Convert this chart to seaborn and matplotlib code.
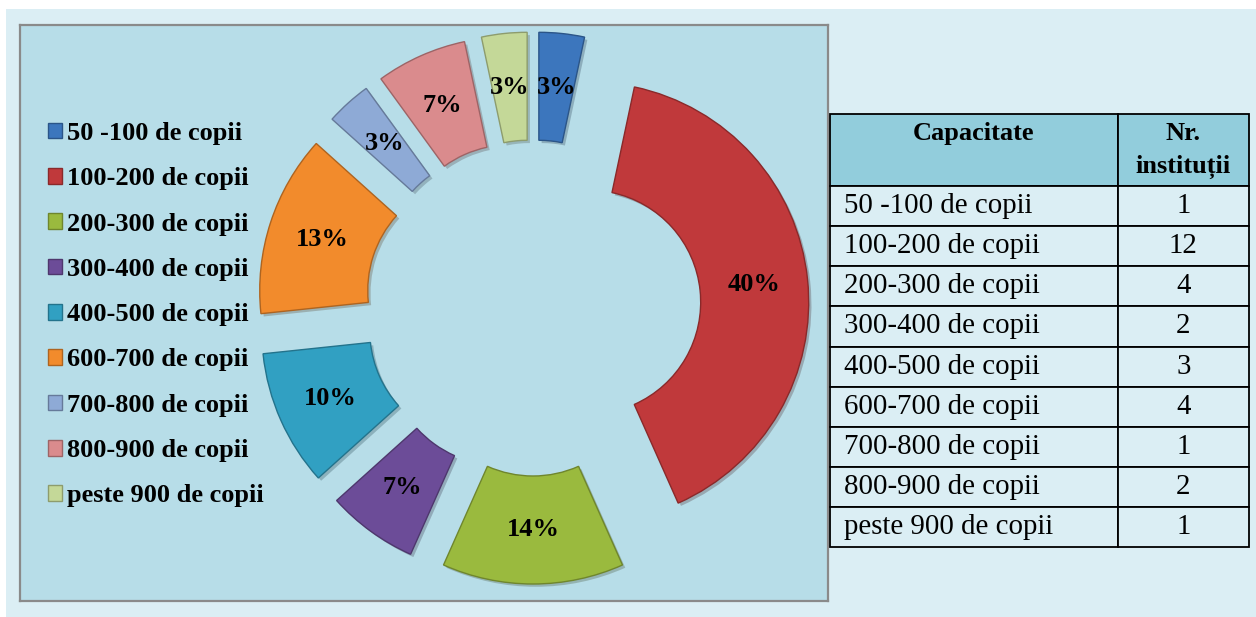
import matplotlib
matplotlib.use("Agg")
import matplotlib.pyplot as plt
import matplotlib.patheffects as pe
from matplotlib.patches import Rectangle
import seaborn as sns

# ---- data ----
categories = ["50 -100 de copii", "100-200 de copii", "200-300 de copii",
              "300-400 de copii", "400-500 de copii", "600-700 de copii",
              "700-800 de copii", "800-900 de copii", "peste 900 de copii"]
counts = [1, 12, 4, 2, 3, 4, 1, 2, 1]
pct_labels = ["3%", "40%", "14%", "7%", "10%", "13%", "3%", "7%", "3%"]
header = ["Capacitate\n ", "Nr.\ninstituții"]

colors = ["#3c76bd", "#c0393b", "#9aba3e", "#6c4c98", "#31a0c2",
          "#f28b2c", "#8eaad6", "#da8b8d", "#c4d898"]

sns.set_style("white")
plt.rcParams['font.family'] = ['Liberation Serif', 'DejaVu Serif']
plt.rcParams['text.color'] = 'black'
palette = sns.color_palette(colors)

W, H = 1256, 617
fig = plt.figure(figsize=(W / 100, H / 100), dpi=100, facecolor="white")
bg = Rectangle((6 / W, 0), 1, 1 - 9 / H, transform=fig.transFigure,
               facecolor="#dbeef4", edgecolor="none", zorder=-10)
fig.patches.append(bg)

# ---- chart area ----
L, T, R_, B = 20, 25, 828, 601
ax = fig.add_axes([L / W, 1 - B / H, (R_ - L) / W, (B - T) / H])
cx, cy, scale = 533, 308, 220.0

it = iter(pct_labels)
wedges, texts, autotexts = ax.pie(
    counts, colors=palette, startangle=90, counterclock=False, radius=1.0,
    explode=[56 / scale] * len(counts),
    wedgeprops=dict(width=108 / scale, linewidth=1.0),
    autopct=lambda p: next(it), pctdistance=166 / scale,
    textprops=dict(fontsize=19, fontweight="bold", color="black",
                   family="Liberation Serif"))
for w, c in zip(wedges, palette):
    ec = tuple(max(0, v * 0.72) for v in c)
    w.set_edgecolor(ec)
    w.set_path_effects([pe.SimplePatchShadow(offset=(2, -2), alpha=0.25), pe.Normal()])

ax.set_aspect("auto")
ax.set_xlim((L - cx) / scale, (R_ - cx) / scale)
ax.set_ylim(-(B - cy) / scale, (cy - T) / scale)
ax.set_frame_on(True)
ax.set_facecolor("#b7dde8")
for s in ax.spines.values():
    s.set_visible(True)
    s.set_color("#8a8a8a")
    s.set_linewidth(1.6)
ax.set_xticks([])
ax.set_yticks([])

leg = ax.legend(wedges, categories, loc="upper left",
                bbox_to_anchor=(48 / W, 1 - 122 / H), bbox_transform=fig.transFigure,
                frameon=False, borderpad=0, borderaxespad=0,
                handlelength=0.53, handleheight=0.53, handletextpad=0.2,
                labelspacing=0.845, labelcolor="black",
                prop=dict(family="Liberation Serif", weight="bold", size=19))
for h in leg.legend_handles:
    h.set_path_effects([])

# ---- table ----
tL, tT, tR, tB = 830, 114, 1249, 547
tax = fig.add_axes([tL / W, 1 - tB / H, (tR - tL) / W, (tB - tT) / H])
tax.axis("off")
cell_text = [[c, str(n)] for c, n in zip(categories, counts)]
tbl = tax.table(cellText=cell_text, colLabels=header, bbox=[0, 0, 1, 1],
                cellLoc="center")
tbl.auto_set_font_size(False)
tbl.set_fontsize(20.8)
colw = [287, 131]
for (r, c), cell in tbl.get_celld().items():
    cell.set_width(colw[c])
    cell.set_height(72 if r == 0 else 40)
    cell.set_edgecolor("black")
    cell.set_linewidth(1.3)
    txt = cell.get_text()
    txt.set_fontfamily("Liberation Serif")
    txt.set_color("black")
    if r == 0:
        cell.set_facecolor("#92cddc")
        txt.set_fontweight("bold")
        txt.set_fontsize(19)
        txt.set_linespacing(1.55)
    else:
        cell.set_facecolor("#dbeef4")
        if c == 0:
            cell._loc = "left"
            cell.PAD = 14 / 287
            txt.set_horizontalalignment("left")

fig.savefig("out.png", dpi=100, facecolor=fig.get_facecolor())
